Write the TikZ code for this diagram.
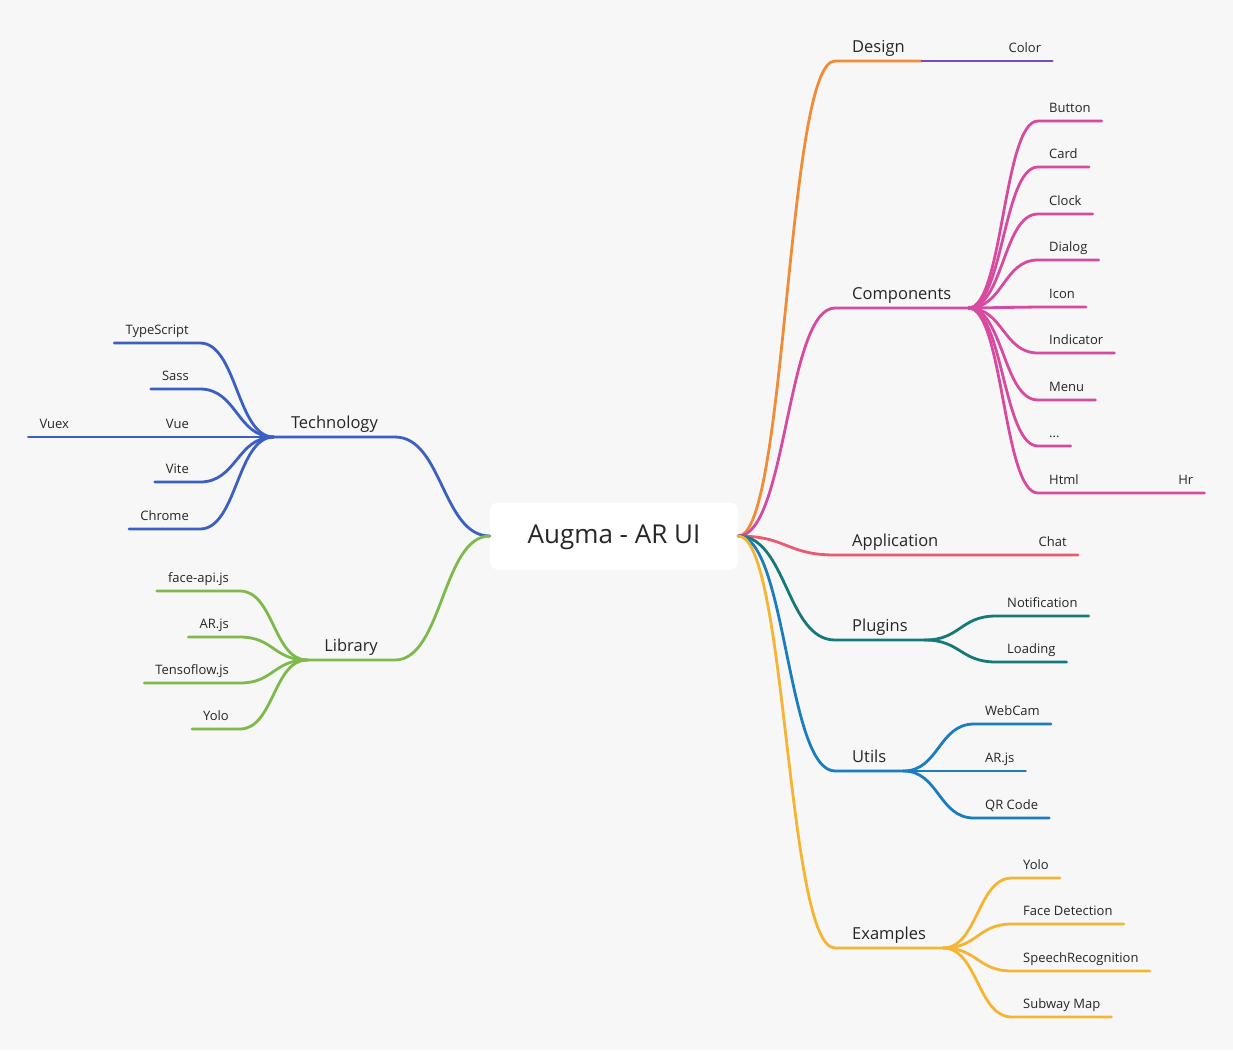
\documentclass[tikz,border=0pt]{standalone}
\usepackage{fontspec}
\setmainfont{Open Sans}
\usetikzlibrary{calc}

\definecolor{bg}{HTML}{F7F7F7}
\definecolor{ink}{HTML}{262626}
\definecolor{cdesign}{HTML}{F08C37}
\definecolor{ccolor}{HTML}{784BBE}
\definecolor{ccomp}{HTML}{D64BA0}
\definecolor{capp}{HTML}{EB5A6E}
\definecolor{cplug}{HTML}{177878}
\definecolor{cutils}{HTML}{1C7DBE}
\definecolor{cex}{HTML}{F5B432}
\definecolor{ctech}{HTML}{3C5FC3}
\definecolor{clib}{HTML}{7DB94B}

\tikzset{
  curvy/.style={to path={let \p1=(\tikztostart), \p2=(\tikztotarget) in
      .. controls ({(\x1+\x2)/2},\y1) and ({(\x1+\x2)/2},\y2) .. (\tikztotarget) \tikztonodes}},
  br/.style={line width=2.8pt, line cap=round},
  root/.style={fill=white, rounded corners=8pt, minimum width=248pt, minimum height=67pt,
      inner sep=0pt, text height=18pt, text depth=3pt, text=ink, font=\fontsize{26}{30}\selectfont},
  l1/.style={inner xsep=17pt, inner ysep=4pt, text height=12pt, text depth=4pt,
      text=ink, font=\fontsize{16.5}{19}\selectfont},
  l2/.style={inner xsep=11pt, inner ysep=4pt, text height=10pt, text depth=4pt,
      text=ink, font=\fontsize{13}{16}\selectfont},
  rt/.style={anchor=south west},
  lt/.style={anchor=south east}
}

\begin{document}
\begin{tikzpicture}[x=1pt, y=-1pt]
  % background
  \fill[bg] (0,0) rectangle (1233,1050);
  \useasboundingbox (0,0) rectangle (1233,1050);

  % central topic
  \node[root] (root) at (614,536) {Augma - AR UI};

  % right topics
  \node[l1,rt] (design) at (835,61) {Design};
  \node[l2,rt,text width=108pt,align=right] (color) at (design.south east) {Color};
  \node[l1,rt] (comp) at (835,308) {Components};
  \node[l1,rt] (app) at (835,555) {Application};
  \node[l2,rt,text width=100pt,align=right] (chat) at (app.south east) {Chat};
  \node[l1,rt] (plug) at (835,640) {Plugins};
  \node[l1,rt] (utils) at (835,771) {Utils};
  \node[l1,rt] (ex) at (835,948) {Examples};

  % components
  \node[l2,rt] (button) at (1038,121) {Button};
  \node[l2,rt] (card) at (1038,167) {Card};
  \node[l2,rt] (clock) at (1038,214) {Clock};
  \node[l2,rt] (dialog) at (1038,260) {Dialog};
  \node[l2,rt] (icon) at (1038,307) {Icon};
  \node[l2,rt] (indicator) at (1038,353) {Indicator};
  \node[l2,rt] (menu) at (1038,400) {Menu};
  \node[l2,rt] (more) at (1038,446) {...};
  \node[l2,rt] (html) at (1038,493) {Html};
  \node[l2,rt,text width=92pt,align=right] (hr) at (html.south east) {Hr};

  % plugins, utils, examples
  \node[l2,rt] (notif) at (996,616) {Notification};
  \node[l2,rt] (loading) at (996,662) {Loading};
  \node[l2,rt] (webcam) at (974,724) {WebCam};
  \node[l2,rt] (arjs) at (974,771) {AR.js};
  \node[l2,rt] (qr) at (974,818) {QR Code};
  \node[l2,rt] (yolo) at (1012,878) {Yolo};
  \node[l2,rt] (face) at (1012,924) {Face Detection};
  \node[l2,rt] (speech) at (1012,971) {SpeechRecognition};
  \node[l2,rt] (subway) at (1012,1017) {Subway Map};

  % left topics
  \node[l1,lt] (tech) at (395,437) {Technology};
  \node[l2,lt] (ts) at (200,343) {TypeScript};
  \node[l2,lt] (sass) at (200,389) {Sass};
  \node[l2,lt] (vue) at (200,437) {Vue};
  \node[l2,lt,text width=104pt,align=left] (vuex) at (vue.south west) {Vuex};
  \node[l2,lt] (vite) at (200,482) {Vite};
  \node[l2,lt] (chrome) at (200,529) {Chrome};
  \node[l1,lt] (lib) at (395,660) {Library};
  \node[l2,lt] (faceapi) at (240,591) {face-api.js};
  \node[l2,lt] (arjsl) at (240,637) {AR.js};
  \node[l2,lt] (tf) at (240,683) {Tensoflow.js};
  \node[l2,lt] (yolol) at (240,729) {Yolo};

  % branches to the right
  \draw[br,cdesign] (root.east) to[curvy] (design.south west) -- (design.south east);
  \draw[br,ccolor] (design.south east) -- (color.south east);
  \draw[br,ccomp] (root.east) to[curvy] (comp.south west) -- (comp.south east);
  \draw[br,capp] (root.east) to[curvy] (app.south west) -- (chat.south east);
  \draw[br,cplug] (root.east) to[curvy] (plug.south west) -- (plug.south east);
  \draw[br,cutils] (root.east) to[curvy] (utils.south west) -- (utils.south east);
  \draw[br,cex] (root.east) to[curvy] (ex.south west) -- (ex.south east);

  \draw[br,ccomp] (comp.south east) to[curvy] (button.south west) -- (button.south east);
  \draw[br,ccomp] (comp.south east) to[curvy] (card.south west) -- (card.south east);
  \draw[br,ccomp] (comp.south east) to[curvy] (clock.south west) -- (clock.south east);
  \draw[br,ccomp] (comp.south east) to[curvy] (dialog.south west) -- (dialog.south east);
  \draw[br,ccomp] (comp.south east) to[curvy] (icon.south west) -- (icon.south east);
  \draw[br,ccomp] (comp.south east) to[curvy] (indicator.south west) -- (indicator.south east);
  \draw[br,ccomp] (comp.south east) to[curvy] (menu.south west) -- (menu.south east);
  \draw[br,ccomp] (comp.south east) to[curvy] (more.south west) -- (more.south east);
  \draw[br,ccomp] (comp.south east) to[curvy] (html.south west) -- (hr.south east);

  \draw[br,cplug] (plug.south east) to[curvy] (notif.south west) -- (notif.south east);
  \draw[br,cplug] (plug.south east) to[curvy] (loading.south west) -- (loading.south east);
  \draw[br,cutils] (utils.south east) to[curvy] (webcam.south west) -- (webcam.south east);
  \draw[br,cutils] (utils.south east) to[curvy] (arjs.south west) -- (arjs.south east);
  \draw[br,cutils] (utils.south east) to[curvy] (qr.south west) -- (qr.south east);
  \draw[br,cex] (ex.south east) to[curvy] (yolo.south west) -- (yolo.south east);
  \draw[br,cex] (ex.south east) to[curvy] (face.south west) -- (face.south east);
  \draw[br,cex] (ex.south east) to[curvy] (speech.south west) -- (speech.south east);
  \draw[br,cex] (ex.south east) to[curvy] (subway.south west) -- (subway.south east);

  % branches to the left
  \draw[br,ctech] (root.west) to[curvy] (tech.south east) -- (tech.south west);
  \draw[br,ctech] (tech.south west) to[curvy] (ts.south east) -- (ts.south west);
  \draw[br,ctech] (tech.south west) to[curvy] (sass.south east) -- (sass.south west);
  \draw[br,ctech] (tech.south west) to[curvy] (vue.south east) -- (vuex.south west);
  \draw[br,ctech] (tech.south west) to[curvy] (vite.south east) -- (vite.south west);
  \draw[br,ctech] (tech.south west) to[curvy] (chrome.south east) -- (chrome.south west);
  \draw[br,clib] (root.west) to[curvy] (lib.south east) -- (lib.south west);
  \draw[br,clib] (lib.south west) to[curvy] (faceapi.south east) -- (faceapi.south west);
  \draw[br,clib] (lib.south west) to[curvy] (arjsl.south east) -- (arjsl.south west);
  \draw[br,clib] (lib.south west) to[curvy] (tf.south east) -- (tf.south west);
  \draw[br,clib] (lib.south west) to[curvy] (yolol.south east) -- (yolol.south west);
\end{tikzpicture}
\end{document}
